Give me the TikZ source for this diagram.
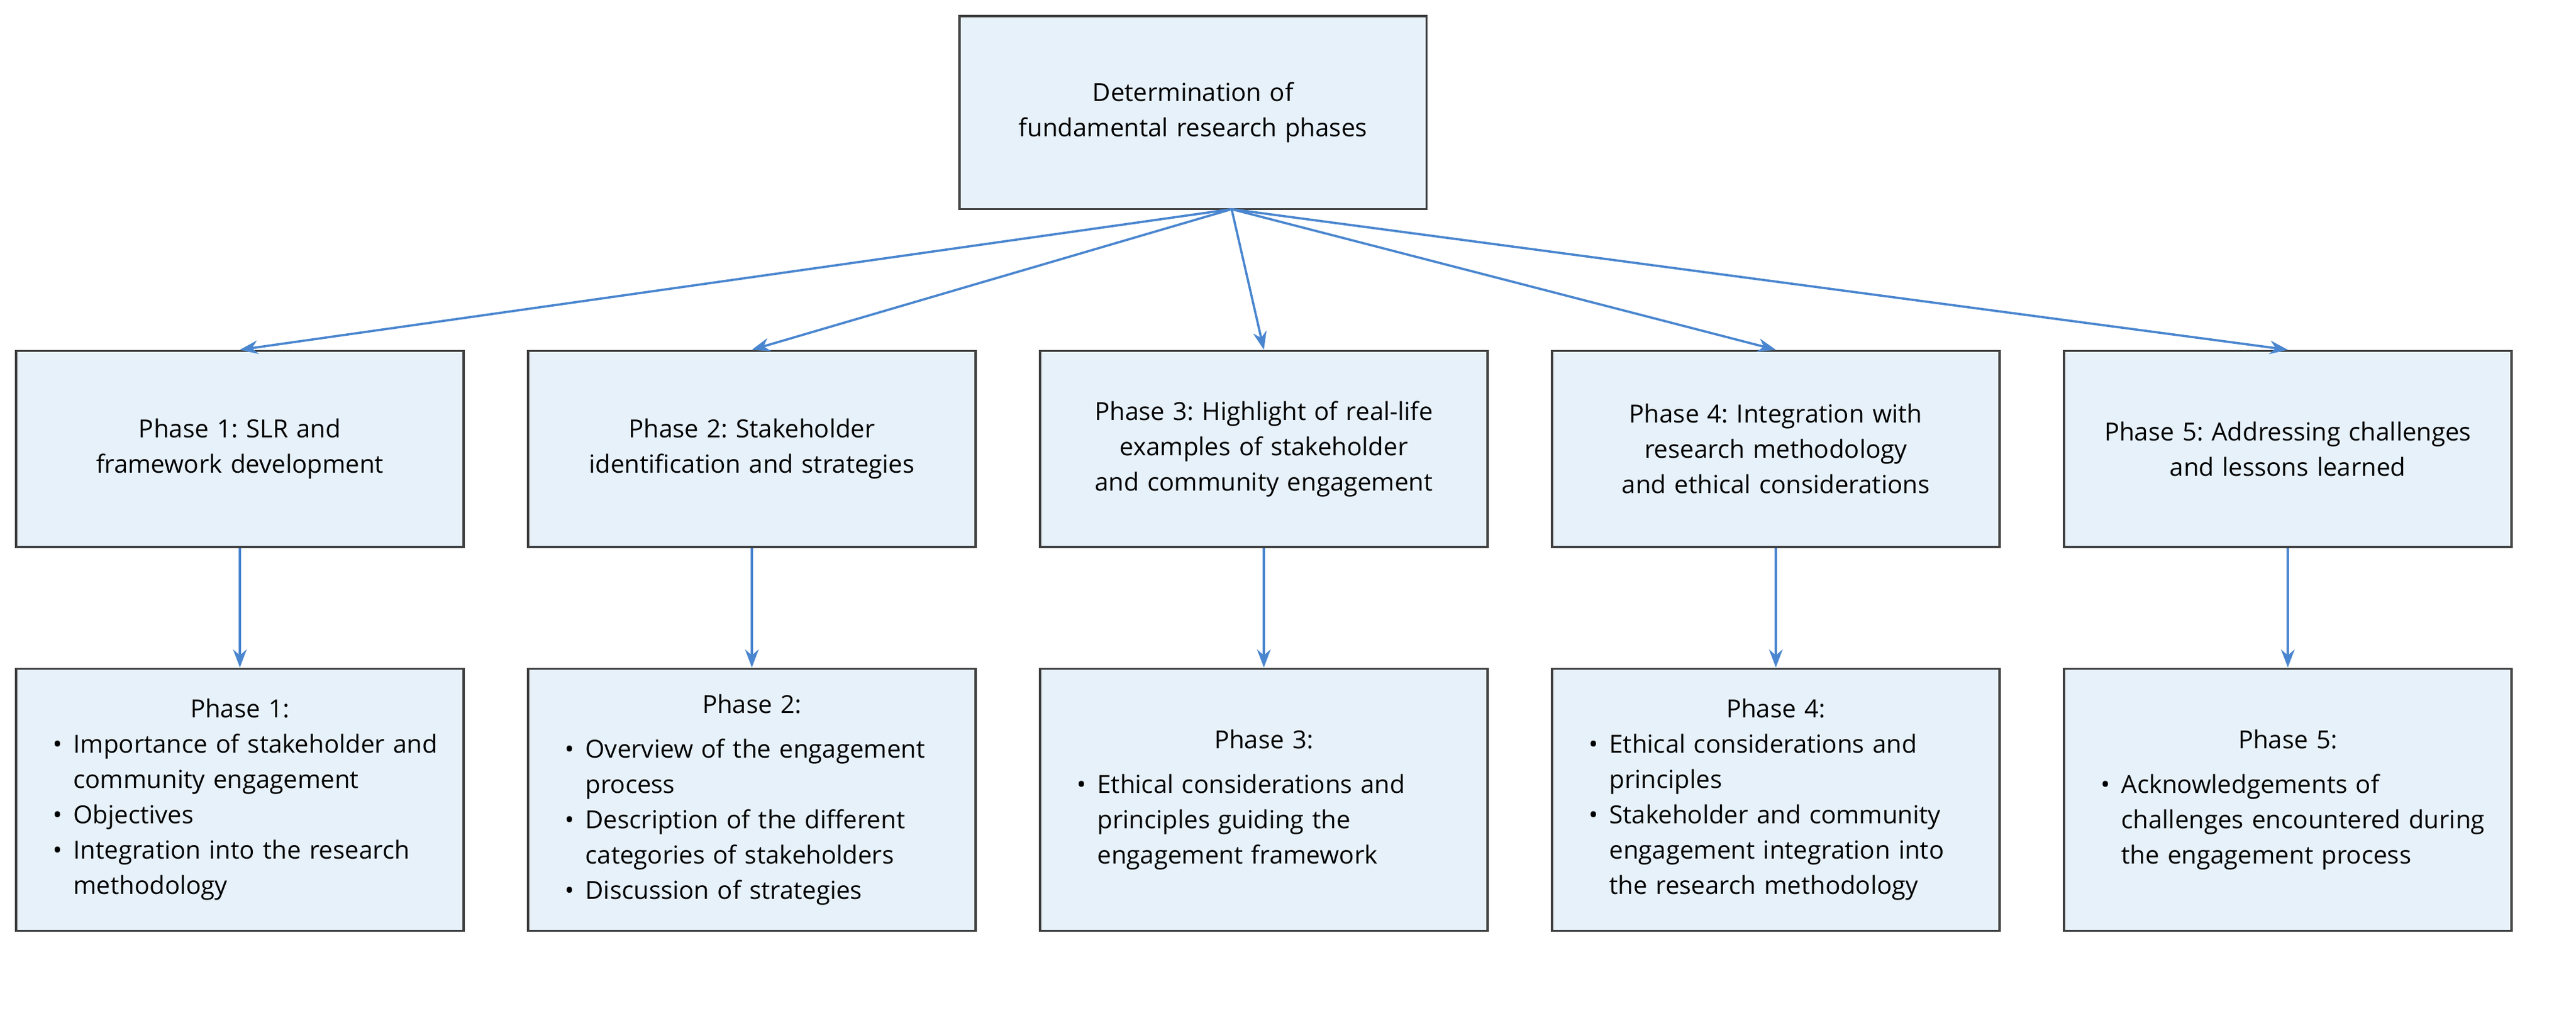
\documentclass[tikz,border=0pt]{standalone}
\usepackage{fontspec}
\setmainfont{Open Sans}
\usepackage{enumitem}
\usetikzlibrary{arrows.meta}
\definecolor{boxfill}{HTML}{E6F1FA}
\definecolor{arr}{HTML}{4A86CF}
\frenchspacing
\newcommand\myfont{\fontsize{11}{15.6}\selectfont\hyphenpenalty=10000\relax\exhyphenpenalty=10000\relax}
\begin{document}
\begin{tikzpicture}[x=0.025cm,y=-0.025cm,
 box/.style={draw=black!75,line width=0.9pt,fill=boxfill,inner sep=4pt,align=center,font=\myfont},
 pbox/.style={box,minimum width=278*0.025cm,minimum height=122*0.025cm,text width=236*0.025cm},
 bbox/.style={box,minimum width=278*0.025cm,minimum height=163*0.025cm,text width=250*0.025cm},
 con/.style={draw=arr,line width=1pt,-{Stealth[length=8pt,width=6pt]}}]
\useasboundingbox (0,0) rectangle (1600,628);
\setlist[itemize]{nosep,leftmargin=1.4em,label=\textbullet}
\node[box,minimum width=290*0.025cm,minimum height=120*0.025cm,text width=250*0.025cm] (top) at (741,70) {Determination of fundamental research phases};
\foreach \i/\x/\t in {1/149/{Phase 1: SLR and framework development},
 2/467/{Phase 2: Stakeholder identification and strategies},
 3/785/{Phase 3: Highlight of real-life examples of stakeholder and community engagement},
 4/1103/{Phase 4: Integration with research methodology and ethical considerations},
 5/1421/{Phase 5: Addressing challenges and lessons learned}}{
 \node[pbox] (p\i) at (\x,279) {\t};
}
\node[bbox] (b1) at (149,497) {Phase 1:\\[-2pt]\raggedright\begin{itemize}\item Importance of stakeholder and community engagement\item Objectives\item Integration into the research methodology\end{itemize}};
\node[bbox] (b2) at (467,497) {Phase 2:\\[4pt]\raggedright\begin{itemize}\item Overview of the engagement process\item Description of the different categories of stakeholders\item Discussion of strategies\end{itemize}};
\node[bbox] (b3) at (785,497) {Phase 3:\\[4pt]\raggedright\begin{itemize}\item Ethical considerations and principles guiding the engagement framework\end{itemize}};
\node[bbox] (b4) at (1103,497) {Phase 4:\\[-2pt]\raggedright\begin{itemize}\item Ethical considerations and principles\item Stakeholder and community engagement integration into the research methodology\end{itemize}};
\node[bbox] (b5) at (1421,497) {Phase 5:\\[4pt]\raggedright\begin{itemize}\item Acknowledgements of challenges encountered during the engagement process\end{itemize}};
\coordinate (s) at (765,130);
\foreach \i in {1,...,5}{
 \draw[con] (s) -- (p\i.north);
 \draw[con] (p\i.south) -- (b\i.north);
}
\end{tikzpicture}
\end{document}
